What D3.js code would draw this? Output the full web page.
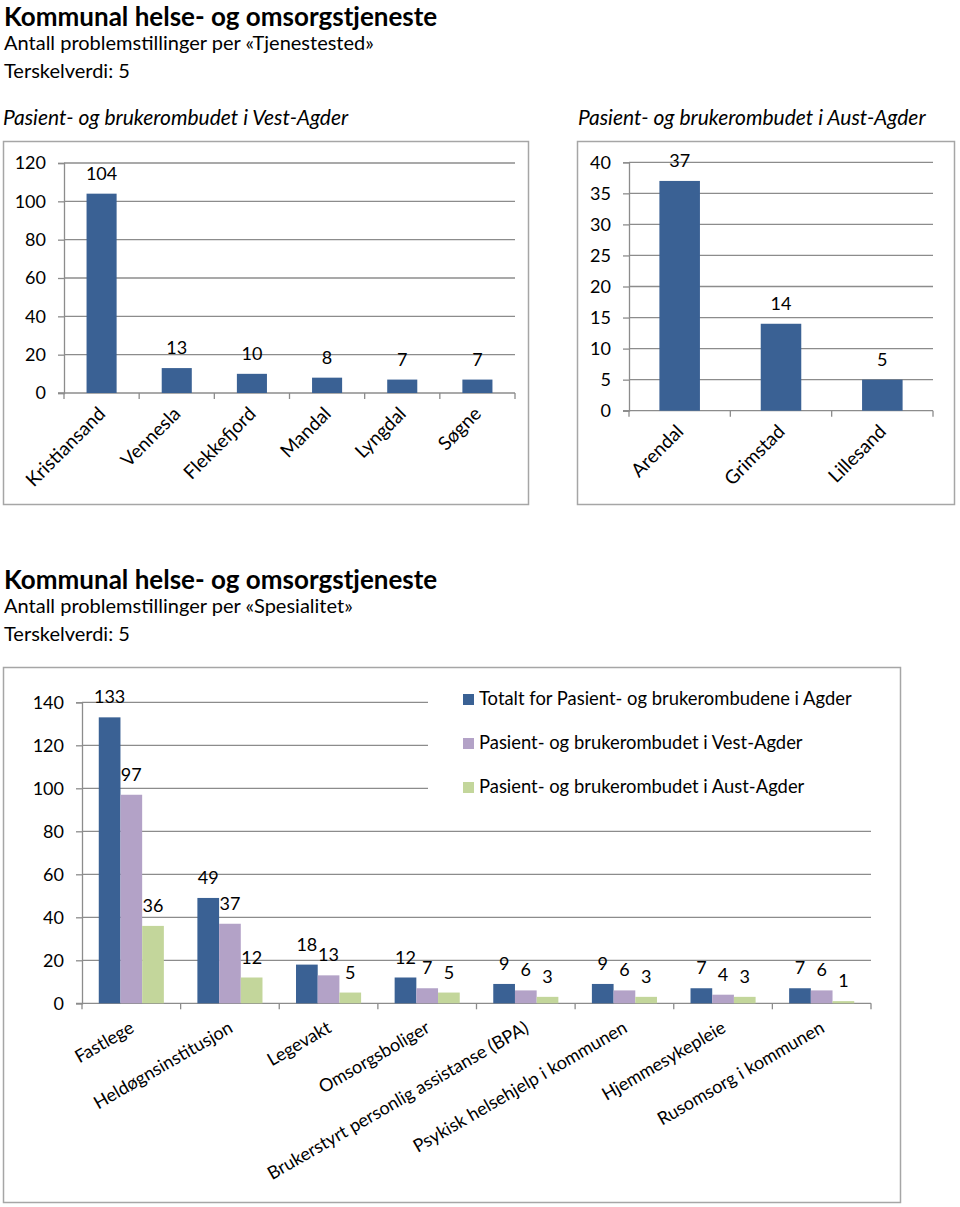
<!DOCTYPE html>
<html><head><meta charset="utf-8">
<script src="https://cdn.jsdelivr.net/npm/d3@7"></script>
<style>body{margin:0;background:#fff}svg{display:block}text{font-family:Lato,"Open Sans",sans-serif;fill:#000}</style>
</head><body>
<script>
// ---------- data ----------
const mainTitle = "Kommunal helse- og omsorgstjeneste";
const subTitle1 = "Antall problemstillinger per «Tjenestested»";
const subTitle2 = "Antall problemstillinger per «Spesialitet»";
const thresholdText = "Terskelverdi: 5";
const vestTitle = "Pasient- og brukerombudet i Vest-Agder";
const austTitle = "Pasient- og brukerombudet i Aust-Agder";

const vestCategories = ["Kristiansand","Vennesla","Flekkefjord","Mandal","Lyngdal","Søgne"];
const vestValues = [104,13,10,8,7,7];
const vestTicks = [0,20,40,60,80,100,120];

const austCategories = ["Arendal","Grimstad","Lillesand"];
const austValues = [37,14,5];
const austTicks = [0,5,10,15,20,25,30,35,40];

const specCategories = ["Fastlege","Heldøgnsinstitusjon","Legevakt","Omsorgsboliger","Brukerstyrt personlig assistanse (BPA)","Psykisk helsehjelp i kommunen","Hjemmesykepleie","Rusomsorg i kommunen"];
const seriesNames = ["Totalt for Pasient- og brukerombudene i Agder","Pasient- og brukerombudet i Vest-Agder","Pasient- og brukerombudet i Aust-Agder"];
const totalValues = [133,49,18,12,9,9,7,7];
const vestSpecValues = [97,37,13,7,6,6,4,6];
const austSpecValues = [36,12,5,5,3,3,3,1];
const specTicks = [0,20,40,60,80,100,120,140];

// ---------- styles ----------
const colors = ["#3A6194","#B3A2C7","#C3D69B"];
const gridColor = "#8C8C8C";
const boxColor = "#A6A6A6";
const FS = 18;

const svg = d3.select("body").append("svg").attr("width",960).attr("height",1207);

function titles(y0, sub){
  svg.append("text").attr("x",4).attr("y",y0).attr("font-size",26).attr("font-weight",700).text(mainTitle);
  svg.append("text").attr("x",4).attr("y",y0+24).attr("font-size",20).text(sub);
  svg.append("text").attr("x",4).attr("y",y0+52).attr("font-size",20).text(thresholdText);
}
titles(26, subTitle1);
titles(589, subTitle2);

svg.append("text").attr("x",3).attr("y",125).attr("font-size",21).attr("font-style","italic").text(vestTitle);
svg.append("text").attr("x",578).attr("y",125).attr("font-size",21).attr("font-style","italic").text(austTitle);

function box(x0,y0,x1,y1){
  svg.append("rect").attr("x",x0+0.5).attr("y",y0+0.5).attr("width",x1-x0).attr("height",y1-y0)
    .attr("fill","#fff").attr("stroke",boxColor).attr("stroke-width",1.5);
}

function drawAxes(g, x, y, ticks, xRange, yBottom){
  g.selectAll(".grid").data(ticks.filter(t=>t>0)).join("line")
    .attr("x1",xRange[0]).attr("x2",xRange[1])
    .attr("y1",d=>y(d)).attr("y2",d=>y(d)).attr("stroke",gridColor).attr("stroke-width",1.3);
  const ya = d3.axisLeft(y).tickValues(ticks).tickSize(6).tickPadding(12).tickFormat(d3.format("d"));
  const yg = g.append("g").attr("transform",`translate(${xRange[0]},0)`).call(ya);
  yg.select(".domain").attr("stroke",gridColor).attr("stroke-width",1.3);
  yg.selectAll(".tick line").attr("stroke",gridColor).attr("stroke-width",1.3);
  yg.selectAll(".tick text").attr("font-size",FS).attr("font-family","Lato").attr("fill","#000");
  g.append("line").attr("x1",xRange[0]-6).attr("x2",xRange[1]).attr("y1",yBottom).attr("y2",yBottom)
    .attr("stroke",gridColor).attr("stroke-width",1.3);
  const step = x.step();
  const bounds = d3.range(x.domain().length+1).map(i=>xRange[0]+i*step);
  g.selectAll(".xt").data(bounds).join("line").attr("x1",d=>d).attr("x2",d=>d)
    .attr("y1",yBottom).attr("y2",yBottom+6).attr("stroke",gridColor).attr("stroke-width",1.3);
}

function simpleChart(cats, vals, ticks, xRange, yRange){
  const g = svg.append("g");
  const x = d3.scaleBand().domain(cats).range(xRange).paddingInner(0.6).paddingOuter(0.3);
  const y = d3.scaleLinear().domain([0, d3.max(ticks)]).range(yRange);
  drawAxes(g, x, y, ticks, xRange, yRange[0]);
  g.selectAll(".bar").data(vals).join("rect")
    .attr("x",(d,i)=>x(cats[i])).attr("width",x.bandwidth())
    .attr("y",d=>y(d)).attr("height",d=>y(0)-y(d)).attr("fill",colors[0]);
  g.selectAll(".val").data(vals).join("text")
    .attr("x",(d,i)=>x(cats[i])+x.bandwidth()/2).attr("y",d=>y(d)-14)
    .attr("text-anchor","middle").attr("font-size",FS).text(d=>d);
  g.selectAll(".xl").data(cats).join("text")
    .attr("transform",d=>`translate(${x(d)+x.bandwidth()/2+5},${yRange[0]+22}) rotate(-45)`)
    .attr("text-anchor","end").attr("font-size",19).text(d=>d);
}

box(3,141,528,504);
simpleChart(vestCategories, vestValues, vestTicks, [64,515], [393,163]);
box(577,141,954,504);
simpleChart(austCategories, austValues, austTicks, [629,933], [410.7,162.3]);

// ---------- grouped chart ----------
box(3,667,900,1202);
(function(){
  const g = svg.append("g");
  const xRange=[82,871], yRange=[1003.3,702.3];
  const x = d3.scaleBand().domain(specCategories).range(xRange);
  const x1 = d3.scaleBand().domain(seriesNames).range([x.bandwidth()*0.17, x.bandwidth()*0.83]);
  const y = d3.scaleLinear().domain([0,140]).range(yRange);
  drawAxes(g, x, y, specTicks, xRange, yRange[0]);
  const series = [totalValues, vestSpecValues, austSpecValues];
  const flat = [];
  series.forEach((vals,s)=>vals.forEach((v,i)=>flat.push({s, cat:specCategories[i], v})));
  g.selectAll(".bar").data(flat).join("rect")
    .attr("x",d=>x(d.cat)+x1(seriesNames[d.s])).attr("width",x1.bandwidth())
    .attr("y",d=>y(d.v)).attr("height",d=>y(0)-y(d.v)).attr("fill",d=>colors[d.s]);
  const lg = svg.append("g");
  lg.append("rect").attr("x",428).attr("y",680).attr("width",460).attr("height",132).attr("fill","#fff");
  seriesNames.forEach((n,i)=>{
    const by = 705 + i*44;
    lg.append("rect").attr("x",463).attr("y",by-11).attr("width",11).attr("height",11).attr("fill",colors[i]);
    lg.append("text").attr("x",479).attr("y",by).attr("font-size",18.4).text(n);
  });
  g.selectAll(".val").data(flat).join("text")
    .attr("x",d=>x(d.cat)+x1(seriesNames[d.s])+x1.bandwidth()/2).attr("y",d=>y(d.v)-14)
    .attr("text-anchor","middle").attr("font-size",FS).text(d=>d.v);
  g.selectAll(".xl").data(specCategories).join("text")
    .attr("transform",d=>`translate(${x(d)+x.bandwidth()/2+4},${yRange[0]+28}) rotate(-30)`)
    .attr("text-anchor","end").attr("font-size",18).text(d=>d);
})();
</script>
</body></html>
